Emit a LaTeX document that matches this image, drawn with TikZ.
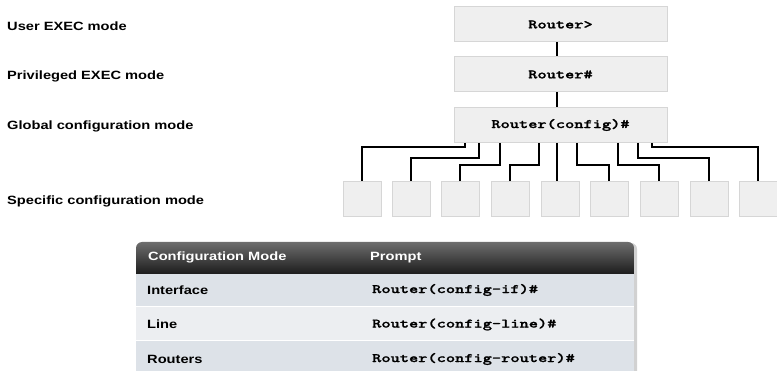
\documentclass[tikz,border=0pt]{standalone}
\usepackage{fontspec}
\usepackage{graphicx}
\setmainfont{Liberation Sans}
\newfontfamily\lab{Liberation Sans}[FakeStretch=1.22]
\newfontfamily\monofam{lmmonolt10-bold.otf}[FakeBold=1.2]
\newcommand\monofont{\monofam\fontsize{13}{15}\selectfont}
\newcommand\widemono[1]{\scalebox{1.35}[1]{#1}}
\definecolor{boxfill}{HTML}{EFEFEF}
\definecolor{boxline}{HTML}{D6D6D6}
\definecolor{rowA}{HTML}{DDE2E8}
\definecolor{rowB}{HTML}{ECEEF1}
\definecolor{hdrTop}{HTML}{6E6E6E}
\definecolor{hdrBot}{HTML}{1C1C1C}
\tikzset{
  modelabel/.style={anchor=west, inner sep=0pt, font=\lab\bfseries\fontsize{12}{14}\selectfont},
  prompt/.style={draw=boxline, fill=boxfill, line width=1pt, minimum width=213pt, minimum height=35pt, inner sep=0pt, font=\monofont},
  subbox/.style={draw=boxline, fill=boxfill, line width=1pt, minimum width=38pt, minimum height=35pt, inner sep=0pt},
  link/.style={line width=2pt, black},
  hdrtext/.style={anchor=west, inner sep=0pt, text=white, font=\lab\bfseries\fontsize{12}{14}\selectfont},
  celltext/.style={anchor=west, inner sep=0pt, font=\lab\bfseries\fontsize{12}{14}\selectfont},
  cellmono/.style={anchor=west, inner sep=0pt, font=\monofont}
}
\begin{document}
\begin{tikzpicture}[x=1pt,y=-1pt]
\useasboundingbox (0,0) rectangle (777,371);
\begin{scope}
\clip (0,0) rectangle (777,371);
% left labels
\node[modelabel] (l1) at (7,26.5) {User EXEC mode};
\node[modelabel] (l2) at (7,76.5) {Privileged EXEC mode};
\node[modelabel] (l3) at (7,126.5) {Global configuration mode};
\node[modelabel] (l4) at (7,201) {Specific configuration mode};
% mode boxes
\node[prompt] (u) at (560.5,24.5) {\widemono{Router>}};
\node[prompt] (p) at (560.5,74.5) {\widemono{Router\#}};
\node[prompt] (g) at (560.5,125) {\widemono{Router(config)\#}};
\draw[link] ([xshift=-3.5pt]u.south) -- ([xshift=-3.5pt]p.north);
\draw[link] ([xshift=-3.5pt]p.south) -- ([xshift=-3.5pt]g.north);
% specific boxes
\foreach \i/\x in {1/362,2/411,3/460,4/510,5/560,6/609,7/659,8/709,9/758}{
  \node[subbox] (s\i) at (\x,199.5) {};
}
\draw[link] ([xshift=-95.5pt]g.south) -- ++(0,4) -| (s1.north);
\draw[link] ([xshift=-81.5pt]g.south) -- ++(0,15) -| (s2.north);
\draw[link] ([xshift=-60.5pt]g.south) -- ++(0,22) -| (s3.north);
\draw[link] ([xshift=-21.5pt]g.south) -- ++(0,22) -| (s4.north);
\draw[link] ([xshift=-3.5pt]g.south) -- ([xshift=-3.5pt]g.south |- s5.north);
\draw[link] ([xshift=16.5pt]g.south) -- ++(0,22) -| (s6.north);
\draw[link] ([xshift=57.5pt]g.south) -- ++(0,22) -| (s7.north);
\draw[link] ([xshift=77.5pt]g.south) -- ++(0,15) -| (s8.north);
\draw[link] ([xshift=91.5pt]g.south) -- ++(0,4) -| (s9.north);
% table
\fill[black!18] (137,245) [rounded corners=6pt] -- (137,243) -- (637,243) [sharp corners] -- (637,380) -- (137,380) -- cycle;
\shade[top color=hdrTop, bottom color=hdrBot] (136,274) [rounded corners=6pt] -- (136,242) -- (634,242) [sharp corners] -- (634,274) -- cycle;
\fill[rowA] (136,274) rectangle (634,306.5);
\fill[rowB] (136,307.5) rectangle (634,340.5);
\fill[rowA] (136,341.5) rectangle (634,380);
\draw[white, line width=1pt] (136,307) -- (634,307);
\draw[white, line width=1pt] (136,341) -- (634,341);
\node[hdrtext] (h1) at (148,257.5) {Configuration Mode};
\node[hdrtext] (h2) at (370,257.5) {Prompt};
\node[celltext] (c1) at (147,290) {Interface};
\node[cellmono] (m1) at (372,290) {\widemono{Router(config-if)\#}};
\node[celltext] (c2) at (147,324.5) {Line};
\node[cellmono] (m2) at (372,324.5) {\widemono{Router(config-line)\#}};
\node[celltext] (c3) at (147,359) {Routers};
\node[cellmono] (m3) at (372,359) {\widemono{Router(config-router)\#}};
\end{scope}
\end{tikzpicture}
\end{document}
